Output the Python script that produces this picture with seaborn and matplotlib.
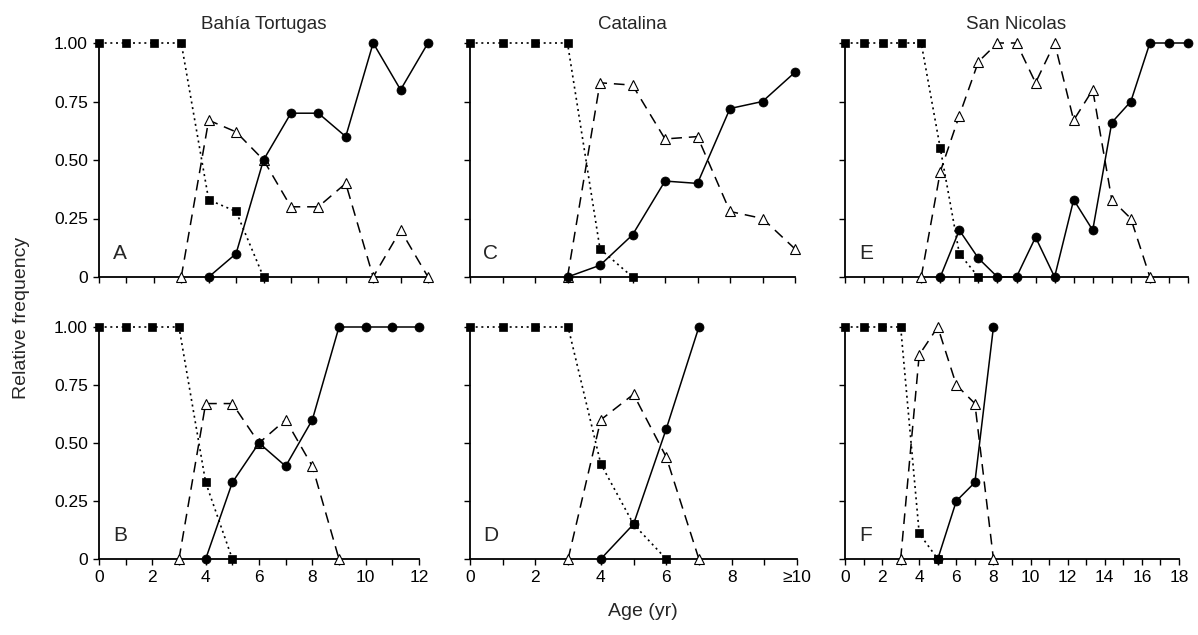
import matplotlib
matplotlib.use('Agg')
import matplotlib.pyplot as plt
import seaborn as sns

# ---- data (relative frequency by age class) ----
# squares = dotted, triangles = dashed, circles = solid

# A  Bahia Tortugas (top)
a_sq_age = [0, 1, 2, 3, 4, 5, 6]
a_sq = [1, 1, 1, 1, 0.33, 0.28, 0]
a_tri_age = [3, 4, 5, 6, 7, 8, 9, 10, 11, 12]
a_tri = [0, 0.67, 0.62, 0.5, 0.3, 0.3, 0.4, 0, 0.2, 0]
a_cir_age = [4, 5, 6, 7, 8, 9, 10, 11, 12]
a_cir = [0, 0.1, 0.5, 0.7, 0.7, 0.6, 1.0, 0.8, 1.0]

# B  Bahia Tortugas (bottom)
b_sq_age = [0, 1, 2, 3, 4, 5]
b_sq = [1, 1, 1, 1, 0.33, 0]
b_tri_age = [3, 4, 5, 6, 7, 8, 9]
b_tri = [0, 0.67, 0.67, 0.5, 0.6, 0.4, 0]
b_cir_age = [4, 5, 6, 7, 8, 9, 10, 11, 12]
b_cir = [0, 0.33, 0.5, 0.4, 0.6, 1.0, 1.0, 1.0, 1.0]

# C  Catalina (top)
c_sq_age = [0, 1, 2, 3, 4, 5]
c_sq = [1, 1, 1, 1, 0.12, 0]
c_tri_age = [3, 4, 5, 6, 7, 8, 9, 10]
c_tri = [0, 0.83, 0.82, 0.59, 0.6, 0.28, 0.25, 0.12]
c_cir_age = [3, 4, 5, 6, 7, 8, 9, 10]
c_cir = [0, 0.05, 0.18, 0.41, 0.40, 0.72, 0.75, 0.875]

# D  Catalina (bottom)
d_sq_age = [0, 1, 2, 3, 4, 5, 6]
d_sq = [1, 1, 1, 1, 0.41, 0.15, 0]
d_tri_age = [3, 4, 5, 6, 7]
d_tri = [0, 0.6, 0.71, 0.44, 0]
d_cir_age = [4, 5, 6, 7]
d_cir = [0, 0.15, 0.56, 1.0]

# E  San Nicolas (top)
e_sq_age = [0, 1, 2, 3, 4, 5, 6, 7]
e_sq = [1, 1, 1, 1, 1, 0.55, 0.1, 0]
e_tri_age = [4, 5, 6, 7, 8, 9, 10, 11, 12, 13, 14, 15, 16]
e_tri = [0, 0.45, 0.69, 0.92, 1.0, 1.0, 0.83, 1.0, 0.67, 0.8, 0.33, 0.25, 0]
e_cir_age = [5, 6, 7, 8, 9, 10, 11, 12, 13, 14, 15, 16, 17, 18]
e_cir = [0, 0.2, 0.08, 0, 0, 0.17, 0, 0.33, 0.2, 0.66, 0.75, 1.0, 1.0, 1.0]

# F  San Nicolas (bottom)
f_sq_age = [0, 1, 2, 3, 4, 5]
f_sq = [1, 1, 1, 1, 0.11, 0]
f_tri_age = [3, 4, 5, 6, 7, 8]
f_tri = [0, 0.88, 1.0, 0.75, 0.67, 0]
f_cir_age = [5, 6, 7, 8]
f_cir = [0, 0.25, 0.33, 1.0]

sites = ['Bahía Tortugas', 'Catalina', 'San Nicolas']
letters = ['A', 'C', 'E', 'B', 'D', 'F']
x_max = [12, 10, 18]
y_ticks = [0, 0.25, 0.5, 0.75, 1.0]
y_tick_labels = ['0', '0.25', '0.50', '0.75', '1.00']

panels = [
    (a_sq_age, a_sq, a_tri_age, a_tri, a_cir_age, a_cir),
    (c_sq_age, c_sq, c_tri_age, c_tri, c_cir_age, c_cir),
    (e_sq_age, e_sq, e_tri_age, e_tri, e_cir_age, e_cir),
    (b_sq_age, b_sq, b_tri_age, b_tri, b_cir_age, b_cir),
    (d_sq_age, d_sq, d_tri_age, d_tri, d_cir_age, d_cir),
    (f_sq_age, f_sq, f_tri_age, f_tri, f_cir_age, f_cir),
]

sns.set_style('ticks')
plt.rcParams['font.family'] = ['Liberation Sans', 'DejaVu Sans']

W, H = 1198, 635
fig = plt.figure(figsize=(W / 100, H / 100), dpi=100)

# axes boxes in pixels: (left, right) per panel, (top, bottom) per row
cols_top = [(99, 428), (470, 795), (845, 1188)]
cols_bot = [(99, 419), (470, 797), (845, 1179)]
rows = [(43, 277), (327, 559)]

axes = []
for r in range(2):
    cols = cols_top if r == 0 else cols_bot
    for c in range(3):
        x0, x1 = cols[c]
        y0, y1 = rows[r]
        ax = fig.add_axes([x0 / W, 1 - y1 / H, (x1 - x0) / W, (y1 - y0) / H])
        axes.append(ax)

for i, ax in enumerate(axes):
    r, c = divmod(i, 3)
    sq_x, sq_y, tri_x, tri_y, cir_x, cir_y = panels[i]

    sns.lineplot(x=tri_x, y=tri_y, ax=ax, color='black', lw=1.1,
                 linestyle=(0, (7, 4.5)), marker='^', markersize=7,
                 markerfacecolor='white', markeredgecolor='black',
                 markeredgewidth=0.8, clip_on=False, zorder=3)
    sns.lineplot(x=cir_x, y=cir_y, ax=ax, color='black', lw=1.1,
                 linestyle='-', marker='o', markersize=6.5,
                 markerfacecolor='black', markeredgecolor='black',
                 markeredgewidth=0.5, clip_on=False, zorder=4)
    sns.lineplot(x=sq_x, y=sq_y, ax=ax, color='black', lw=1.2,
                 linestyle=(0, (1.2, 2.2)), marker='s', markersize=5.5,
                 markerfacecolor='black', markeredgecolor='black',
                 markeredgewidth=0.5, clip_on=False, zorder=5)

    ax.set_xlim(0, x_max[c])
    ax.set_ylim(0, 1)
    ax.set_xticks(range(0, x_max[c] + 1))
    ax.set_yticks(y_ticks)
    if r == 1:
        labels = [str(v) if v % 2 == 0 else '' for v in range(0, x_max[c] + 1)]
        if c == 1:
            labels[-1] = '≥10'
        ax.set_xticklabels(labels)
    else:
        ax.set_xticklabels([])
    if c == 0:
        ax.set_yticklabels(y_tick_labels)
    else:
        ax.set_yticklabels([])
    ax.set_xlabel('')
    ax.set_ylabel('')
    ax.tick_params(direction='out', length=4.5, width=1.0, labelsize=12.5,
                   color='black', labelcolor='black')
    for s in ['left', 'bottom']:
        ax.spines[s].set_linewidth(1.3)
        ax.spines[s].set_color('black')
    sns.despine(ax=ax)

    if r == 0:
        ax.set_title(sites[c], fontsize=13.5, pad=10)

    ax.annotate(letters[i], xy=(0, 0.1), xycoords='axes fraction',
                xytext=(15, 0), textcoords='offset points',
                ha='center', va='center', fontsize=15)

fig.text(22 / W, 1 - 318 / H, 'Relative frequency', rotation=90,
         ha='center', va='center', fontsize=14)
fig.text(643 / W, 1 - 612 / H, 'Age (yr)', ha='center', va='center', fontsize=14)

fig.savefig('out.png', dpi=100)
